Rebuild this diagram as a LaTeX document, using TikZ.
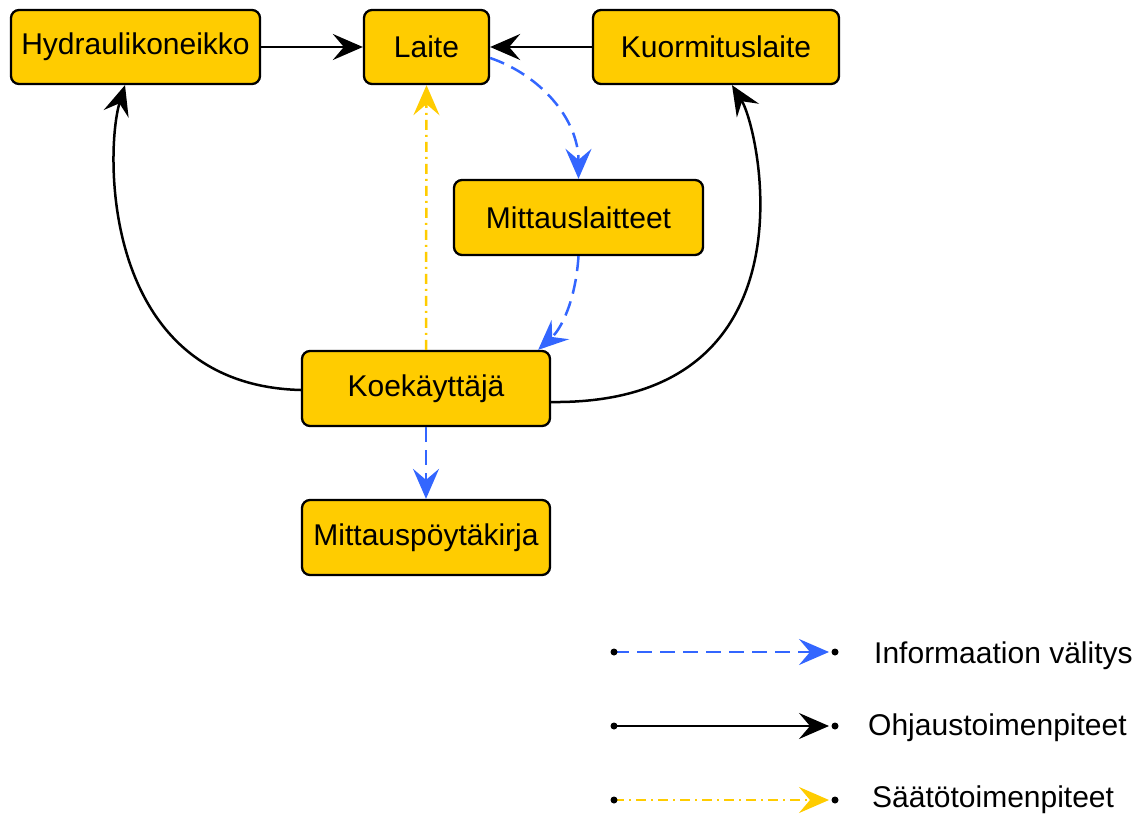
\documentclass[tikz,border=0pt]{standalone}
\usepackage{fontspec}
\setmainfont{Liberation Sans}
\usetikzlibrary{arrows.meta}
\definecolor{boxyellow}{HTML}{FFCC00}
\definecolor{infoblue}{HTML}{3366FF}
\begin{document}
\begin{tikzpicture}[x=1pt,y=-1pt,
  box/.style={draw=black, line width=2.3pt, fill=boxyellow, rounded corners=8pt,
    minimum height=74pt, font=\fontsize{30}{35}\selectfont, inner sep=0pt},
  tip/.style={-{Stealth[length=30pt,width=26pt,inset=11pt]}},
  ctrl/.style={tip, draw=black, line width=2.5pt},
  info/.style={tip, draw=infoblue, line width=2.5pt, dash pattern=on 15pt off 8pt},
  adj/.style={tip, draw=boxyellow, line width=2.5pt, dash pattern=on 10pt off 5pt on 2pt off 5pt},
  legtext/.style={anchor=west, inner sep=0pt, font=\fontsize{30}{35}\selectfont},
  dot/.style={fill=black}]
\useasboundingbox (0,0) rectangle (1142,814);

\node[box, minimum width=249pt] (hyd) at (135.5,47) {Hydraulikoneikko};
\node[box, minimum width=125pt] (laite) at (426.5,47) {Laite};
\node[box, minimum width=246pt] (kuor) at (716,47) {Kuormituslaite};
\node[box, minimum width=249pt, minimum height=75pt] (mitl) at (578.5,217.5) {Mittauslaitteet};
\node[box, minimum width=248pt, minimum height=75pt] (koe) at (426,388.5) {Koekäyttäjä};
\node[box, minimum width=248pt, minimum height=75pt] (mpk) at (426,537.5) {Mittauspöytäkirja};

\draw[ctrl] (hyd.east) -- (laite.west);
\draw[ctrl] (kuor.west) -- (laite.east);
\draw[info] ([yshift=-11pt]laite.east) .. controls +(50,17) and +(0,-60) .. (mitl.north);
\draw[info] (mitl.south) .. controls +(-3,45) and +(23,-21) .. ([xshift=-13pt]koe.north east);
\draw[adj] (koe.north) -- (laite.south);
\draw[info] (koe.south) -- (mpk.north);
\draw[ctrl] ([yshift=-1.5pt]koe.west) .. controls (100,385) and (105,150) .. ([xshift=-10.5pt]hyd.south);
\draw[ctrl] ([yshift=-13.5pt]koe.east) .. controls (820,405) and (760,130) .. ([xshift=16pt]kuor.south);

\coordinate (l1a) at (614,652); \coordinate (l1b) at (835,652);
\coordinate (l2a) at (614,726); \coordinate (l2b) at (835,726);
\coordinate (l3a) at (614,800); \coordinate (l3b) at (835,800);
\draw[info, shorten >=6pt] (l1a) -- (l1b);
\draw[ctrl, shorten >=6pt] (l2a) -- (l2b);
\draw[adj, shorten >=6pt] (l3a) -- (l3b);
\foreach \p in {l1a,l1b,l2a,l2b,l3a,l3b} \fill[dot] (\p) circle (3.5pt);
\node[legtext] (t1) at (874,656) {Informaation välitys};
\node[legtext] (t2) at (868,728) {Ohjaustoimenpiteet};
\node[legtext] (t3) at (872,800) {Säätötoimenpiteet};
\end{tikzpicture}
\end{document}
